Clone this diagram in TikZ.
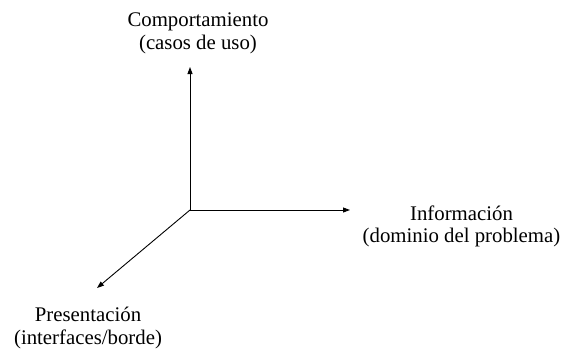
\documentclass[tikz,border=0pt]{standalone}
\usepackage{fontspec}
\setmainfont{Liberation Serif}
\usetikzlibrary{arrows.meta}
\begin{document}
\begin{tikzpicture}[x=1pt,y=-1pt,
  axis/.style={line width=0.9pt,-{Triangle[length=7pt,width=5pt]}},
  lbl/.style={align=center,anchor=base,inner sep=0pt,font=\fontsize{20.8}{22.5}\selectfont}]
\useasboundingbox (0,0) rectangle (564,351);
\coordinate (o) at (190,210);
\coordinate (up) at (190,67);
\coordinate (rt) at (350,210);
\coordinate (dg) at (97,288);
\draw[axis] (o) -- (up);
\draw[axis] (o) -- (rt);
\draw[axis] (o) -- (dg);
\node[lbl] (comp) at (198,49) {Comportamiento\\(casos de uso)};
\node[lbl] (info) at (461.5,242.5) {Información\\(dominio del problema)};
\node[lbl] (pres) at (88,344) {Presentación\\(interfaces/borde)};
\end{tikzpicture}
\end{document}
